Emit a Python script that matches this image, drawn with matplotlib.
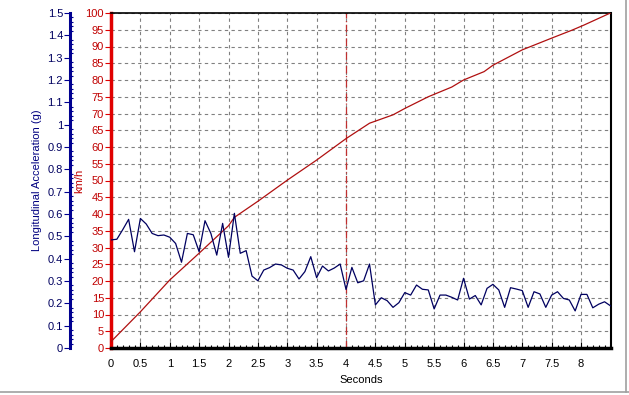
import matplotlib
matplotlib.use("Agg")
import matplotlib.pyplot as plt
from matplotlib.ticker import MultipleLocator
from matplotlib.lines import Line2D

# Longitudinal acceleration (g), sampled every 0.1 s
ACC_TIME = [0.0, 0.1, 0.2, 0.3, 0.4, 0.5, 0.6, 0.7, 0.8, 0.9,
            1.0, 1.1, 1.2, 1.3, 1.4, 1.5, 1.6, 1.7, 1.8, 1.9,
            2.0, 2.1, 2.2, 2.3, 2.4, 2.5, 2.6, 2.7, 2.8, 2.9,
            3.0, 3.1, 3.2, 3.3, 3.4, 3.5, 3.6, 3.7, 3.8, 3.9,
            4.0, 4.1, 4.2, 4.3, 4.4, 4.5, 4.6, 4.7, 4.8, 4.9,
            5.0, 5.1, 5.2, 5.3, 5.4, 5.5, 5.6, 5.7, 5.8, 5.9,
            6.0, 6.1, 6.2, 6.3, 6.4, 6.5, 6.6, 6.7, 6.8, 6.9,
            7.0, 7.1, 7.2, 7.3, 7.4, 7.5, 7.6, 7.7, 7.8, 7.9,
            8.0, 8.1, 8.2, 8.3, 8.4, 8.5]
ACC_G = [0.484, 0.487, 0.530, 0.576, 0.431, 0.580, 0.555, 0.513, 0.503, 0.506,
         0.496, 0.468, 0.384, 0.513, 0.507, 0.431, 0.570, 0.513, 0.416, 0.558,
         0.406, 0.603, 0.424, 0.436, 0.322, 0.301, 0.349, 0.360, 0.376, 0.372,
         0.357, 0.349, 0.309, 0.342, 0.409, 0.315, 0.367, 0.345, 0.358, 0.376,
         0.262, 0.361, 0.292, 0.301, 0.376, 0.193, 0.225, 0.212, 0.182, 0.203,
         0.248, 0.237, 0.282, 0.263, 0.260, 0.175, 0.237, 0.237, 0.227, 0.215,
         0.312, 0.219, 0.235, 0.193, 0.267, 0.285, 0.260, 0.182, 0.270, 0.264,
         0.257, 0.182, 0.252, 0.242, 0.182, 0.237, 0.252, 0.222, 0.215, 0.166,
         0.240, 0.240, 0.180, 0.196, 0.207, 0.189]

# Vehicle speed (km/h)
SPEED_TIME = [0.0, 0.5, 1.0, 1.5, 2.0, 2.1, 2.5, 3.0, 3.5, 4.0, 4.4, 4.8,
              5.0, 5.4, 5.8, 6.0, 6.35, 6.5, 7.0, 7.5, 7.85, 8.05, 8.5]
SPEED_KMH = [1.9, 10.8, 20.3, 28.3, 36.5, 39.0, 43.8, 50.1, 56.1, 62.5, 67.1, 69.6,
             71.5, 75.0, 77.9, 80.0, 82.5, 84.4, 89.0, 92.5, 94.9, 96.4, 100.0]

MARKER_TIME = 4.0

RED = "#e00000"
RED_TXT = "#c00000"
RED_LINE = "#b01010"
NAVY = "#000090"
NAVY_LINE = "#000060"

plt.rcParams["font.family"] = ["Liberation Sans", "DejaVu Sans"]
plt.rcParams["font.size"] = 8

fig = plt.figure(figsize=(6.29, 3.95), dpi=100)
ax = fig.add_axes([111 / 629, 1 - 348 / 395, 500 / 629, 335 / 395])

# km/h axis (red, on the plot's left edge)
ax.set_xlim(0, 8.51)
ax.set_ylim(0, 100)
ax.yaxis.set_major_locator(MultipleLocator(5))
ax.xaxis.set_major_locator(MultipleLocator(0.5))
ax.xaxis.set_minor_locator(MultipleLocator(0.1))
ax.grid(True, which="major", color="#808080", linestyle=(0, (3, 3)), linewidth=0.8)
ax.set_xticks([0.5 * i for i in range(17)])
ax.set_xticklabels([f"{0.5 * i:g}" for i in range(17)])
ax.tick_params(axis="x", which="major", direction="in", length=4, width=0.8, pad=8)
ax.tick_params(axis="x", which="minor", direction="in", length=2, width=0.8)
ax.tick_params(axis="y", which="major", direction="out", length=4, width=0.8,
               colors=RED, labelcolor=RED_TXT, pad=1)
ax.set_xlabel("Seconds", labelpad=4)
ax.set_ylabel("km/h", color=RED_TXT)
ax.yaxis.set_label_coords(-0.054, 0.5)

ax.spines["left"].set_color(RED)
ax.spines["left"].set_linewidth(2.5)
ax.spines["bottom"].set_linewidth(2.5)
ax.spines["top"].set_linewidth(1.2)
ax.spines["right"].set_linewidth(1.5)

ax.plot(SPEED_TIME, SPEED_KMH, color=RED_LINE, linewidth=0.9, zorder=3)
ax.axvline(MARKER_TIME, color="#c03030", linestyle=(0, (6, 2, 1, 2)), linewidth=0.9, zorder=2)

# acceleration axis (blue, offset further left)
ax2 = ax.twinx()
ax2.set_ylim(0, 1.5)
for s in ("top", "right", "bottom"):
    ax2.spines[s].set_visible(False)
ax2.spines["left"].set_visible(True)
ax2.spines["left"].set_position(("axes", -0.082))
ax2.spines["left"].set_color(NAVY)
ax2.spines["left"].set_linewidth(2.2)
ax2.yaxis.set_ticks_position("left")
ax2.yaxis.set_label_position("left")
ax2.yaxis.set_major_locator(MultipleLocator(0.1))
ax2.yaxis.set_minor_locator(MultipleLocator(0.02))
ax2.set_yticks([0.1 * i for i in range(16)])
ax2.set_yticklabels([f"{0.1 * i:g}" for i in range(16)])
ax2.tick_params(axis="y", which="major", direction="out", length=4, width=0.8,
                colors=NAVY, labelcolor="#000060", pad=1)
ax2.tick_params(axis="y", which="minor", direction="in", length=2, width=0.8, colors=NAVY)
ax2.set_ylabel("Longitudinal Acceleration (g)", color="#000080")
ax2.yaxis.set_label_coords(-0.138, 0.5)

ax2.plot(ACC_TIME, ACC_G, color=NAVY_LINE, linewidth=0.9, zorder=3)

# window frame edges
fig.add_artist(Line2D([0, 1], [3 / 395, 3 / 395], color="#a0a0a0", linewidth=1.2))
fig.add_artist(Line2D([1 - 3 / 629, 1 - 3 / 629], [3 / 395, 1], color="#a0a0a0", linewidth=1.2))

fig.savefig("out.png", dpi=100)
